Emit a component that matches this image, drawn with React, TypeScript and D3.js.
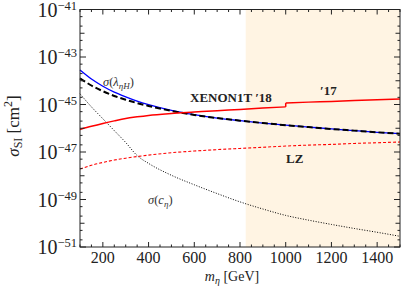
import React, { useEffect } from 'react'
import * as d3 from 'd3'

// masses in GeV, cross sections as log10(sigma / cm^2)
const masses = [100, 150, 200, 250, 300, 350, 400, 500, 600, 700, 800, 900, 1000, 1100, 1200, 1300, 1400, 1500]
const sigmaLambda = [-43.55, -43.93, -44.23, -44.48, -44.68, -44.86, -45.01, -45.25, -45.43, -45.57, -45.68, -45.78, -45.87, -45.95, -46.03, -46.10, -46.17, -46.23]
const sigmaTotal = [-43.9, -44.2, -44.44, -44.64, -44.8, -44.94, -45.06, -45.27, -45.44, -45.57, -45.68, -45.78, -45.87, -45.95, -46.03, -46.10, -46.17, -46.23]
const sigmaC = [-44.55, -45.1, -45.6, -46.1, -46.6, -47.15, -47.48, -47.98, -48.38, -48.75, -49.1, -49.4, -49.67, -49.87, -50.05, -50.22, -50.38, -50.55]
const lzLimit = [-47.72, -47.56, -47.44, -47.34, -47.26, -47.19, -47.13, -47.03, -46.96, -46.9, -46.85, -46.8, -46.75, -46.71, -46.68, -46.64, -46.61, -46.58]

const xenon18Mass = [100, 150, 200, 250, 300, 350, 400, 500, 600, 700, 800, 900, 1000]
const xenon18 = [-46.05, -45.92, -45.8, -45.69, -45.59, -45.52, -45.46, -45.38, -45.32, -45.26, -45.21, -45.15, -45.1]
const xenon17Mass = [1000, 1100, 1200, 1300, 1400, 1500]
const xenon17 = [-44.94, -44.9, -44.87, -44.83, -44.8, -44.77]

const shadeFrom = 825
const xTicks = [200, 400, 600, 800, 1000, 1200, 1400]
const yLabelExps = [-41, -43, -45, -47, -49, -51]

const W = 407
const H = 305
const margin = { left: 80, right: 7, top: 9.5, bottom: 58 }

export default function App() {
  useEffect(() => {
    document.body.style.margin = '0'
  }, [])

  const x = d3.scaleLinear().domain([100, 1500]).range([margin.left, W - margin.right])
  const y = d3.scaleLog().domain([1e-51, 1e-41]).range([H - margin.bottom, margin.top])

  const line = d3.line<[number, number]>()
    .x(d => x(d[0]))
    .y(d => y(Math.pow(10, d[1])))
    .curve(d3.curveMonotoneX)
  const straight = d3.line<[number, number]>()
    .x(d => x(d[0]))
    .y(d => y(Math.pow(10, d[1])))

  const pts = (ms: number[], vs: number[]) => ms.map((m, i) => [m, vs[i]] as [number, number])

  const x0 = x(100), x1 = x(1500), y0 = y(1e-51), y1 = y(1e-41)

  // log ticks: major every decade, minor at 2 and 5
  const yTicks: { v: number; len: number }[] = []
  for (let e = -51; e <= -41; e++) {
    yTicks.push({ v: Math.pow(10, e), len: (e % 2 !== 0) ? 6 : 4.5 })
    if (e < -41) {
      yTicks.push({ v: 2 * Math.pow(10, e), len: 2.5 })
      yTicks.push({ v: 5 * Math.pow(10, e), len: 2.5 })
    }
  }
  const xMinor = d3.range(100, 1501, 50).filter(v => v % 200 !== 0)

  const serif = 'Liberation Serif, DejaVu Serif, serif'

  return (
    <svg width={W} height={H} style={{ display: 'block', fontFamily: serif }}>
      <rect x={x(shadeFrom)} y={y1} width={x1 - x(shadeFrom)} height={y0 - y1} fill="#fff4e3" />

      {/* curves */}
      <path d={line(pts(masses, sigmaLambda)) || ''} fill="none" stroke="#0000ff" strokeWidth={1.3} />
      <path d={line(pts(masses, sigmaTotal)) || ''} fill="none" stroke="#000" strokeWidth={2} strokeDasharray="6,3" />
      <path d={line(pts(masses, sigmaC)) || ''} fill="none" stroke="#000" strokeWidth={1} strokeDasharray="1,1.6" />
      <path d={line(pts(masses, lzLimit)) || ''} fill="none" stroke="#ff0000" strokeWidth={1.1} strokeDasharray="3,2" />
      <path d={line(pts(xenon18Mass, xenon18)) || ''} fill="none" stroke="#ff0000" strokeWidth={1.5} />
      <path d={straight([[1000, xenon18[xenon18.length - 1]], [1000, xenon17[0]]]) || ''} fill="none" stroke="#ff0000" strokeWidth={1.5} />
      <path d={line(pts(xenon17Mass, xenon17)) || ''} fill="none" stroke="#ff0000" strokeWidth={1.5} />

      {/* frame */}
      <rect x={x0} y={y1} width={x1 - x0} height={y0 - y1} fill="none" stroke="#222" strokeWidth={1} />
      {xTicks.map(t => (
        <g key={'xt' + t}>
          <line x1={x(t)} x2={x(t)} y1={y0} y2={y0 - 5} stroke="#222" />
          <line x1={x(t)} x2={x(t)} y1={y1} y2={y1 + 5} stroke="#222" />
          <text x={x(t)} y={263} fontSize={16} textAnchor="middle" fill="#222">{t}</text>
        </g>
      ))}
      {xMinor.map(t => (
        <g key={'xm' + t}>
          <line x1={x(t)} x2={x(t)} y1={y0} y2={y0 - 2.5} stroke="#222" />
          <line x1={x(t)} x2={x(t)} y1={y1} y2={y1 + 2.5} stroke="#222" />
        </g>
      ))}
      {yTicks.map((t, i) => (
        <g key={'yt' + i}>
          <line x1={x0} x2={x0 + t.len} y1={y(t.v)} y2={y(t.v)} stroke="#222" />
          <line x1={x1} x2={x1 - t.len} y1={y(t.v)} y2={y(t.v)} stroke="#222" />
        </g>
      ))}
      {yLabelExps.map(e => (
        <text key={'yl' + e} x={77} y={y(Math.pow(10, e)) + 7} fontSize={20} textAnchor="end" fill="#222">
          10<tspan fontSize={12.5} dy={-7}>{'\u2212' + Math.abs(e)}</tspan>
        </text>
      ))}

      {/* axis labels */}
      <text x={232} y={281} fontSize={14} textAnchor="middle" fill="#222">
        <tspan fontStyle="italic">m</tspan><tspan fontStyle="italic" fontSize={10} dy={3}>η</tspan>
        <tspan dy={-3}> [GeV]</tspan>
      </text>
      <text transform="translate(19,126) rotate(-90)" fontSize={17} textAnchor="middle" fill="#222">
        <tspan fontStyle="italic">σ</tspan><tspan fontSize={12} dy={3}>SI</tspan>
        <tspan dy={-3}> [cm</tspan><tspan fontSize={12} dy={-7}>2</tspan><tspan dy={7}>]</tspan>
      </text>

      {/* curve labels */}
      <text x={103} y={86} fontSize={12.5} fill="#333">
        <tspan fontStyle="italic">σ</tspan>(<tspan fontStyle="italic">λ</tspan><tspan fontStyle="italic" fontSize={9} dy={2.5}>ηH</tspan><tspan dy={-2.5}>)</tspan>
      </text>
      <text x={148} y={204} fontSize={12.5} fill="#333">
        <tspan fontStyle="italic">σ</tspan>(<tspan fontStyle="italic">c</tspan><tspan fontStyle="italic" fontSize={9} dy={2.5}>η</tspan><tspan dy={-2.5}>)</tspan>
      </text>
      <text x={190} y={102} fontSize={13} fontWeight="bold" fill="#222">XENON1T ′18</text>
      <text x={320} y={95} fontSize={13} fontWeight="bold" fill="#222">′17</text>
      <text x={286} y={163} fontSize={13} fontWeight="bold" fill="#222">LZ</text>
    </svg>
  )
}
